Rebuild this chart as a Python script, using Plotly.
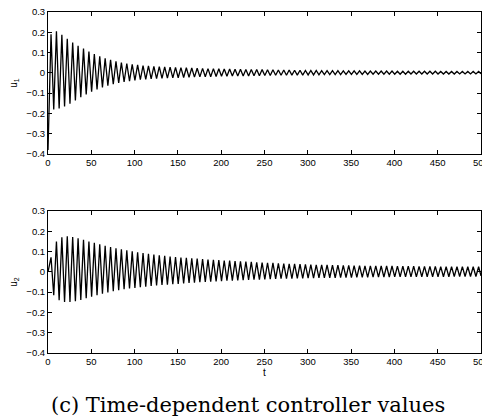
import plotly.graph_objects as go

# ---- data ----
t_first_peak = 3.5      # time of first positive extremum
half_period = 3.125     # half oscillation period (t units)
t_end = 500

u1_start = -0.38
u1_peaks = [0.190, 0.205, 0.188, 0.168, 0.150, 0.133, 0.120, 0.105, 0.093, 0.082,
            0.072, 0.064, 0.057, 0.051, 0.046, 0.042, 0.039, 0.036, 0.034, 0.032,
            0.031, 0.029, 0.028, 0.027, 0.026, 0.025, 0.024, 0.023, 0.022, 0.021,
            0.021, 0.020, 0.019, 0.019, 0.018, 0.018, 0.017, 0.017, 0.016, 0.016,
            0.015, 0.015, 0.014, 0.014, 0.014, 0.013, 0.013, 0.012, 0.012, 0.012,
            0.011, 0.011, 0.011, 0.011, 0.010, 0.010, 0.010, 0.010, 0.009, 0.009,
            0.009, 0.009, 0.009, 0.009, 0.008, 0.008, 0.008, 0.008, 0.008, 0.008,
            0.008, 0.008, 0.007, 0.007, 0.007, 0.007, 0.007, 0.007, 0.007, 0.007]
u1_troughs = [-0.180, -0.176, -0.166, -0.152, -0.136, -0.120, -0.106, -0.093, -0.082, -0.072,
              -0.063, -0.056, -0.050, -0.045, -0.041, -0.037, -0.034, -0.032, -0.030, -0.028,
              -0.027, -0.026, -0.025, -0.024, -0.023, -0.022, -0.021, -0.020, -0.019, -0.019,
              -0.018, -0.017, -0.017, -0.016, -0.016, -0.015, -0.015, -0.014, -0.014, -0.013,
              -0.013, -0.012, -0.012, -0.012, -0.011, -0.011, -0.011, -0.010, -0.010, -0.010,
              -0.009, -0.009, -0.009, -0.009, -0.008, -0.008, -0.008, -0.008, -0.008, -0.007,
              -0.007, -0.007, -0.007, -0.007, -0.007, -0.007, -0.006, -0.006, -0.006, -0.006,
              -0.006, -0.006, -0.006, -0.006, -0.006, -0.005, -0.005, -0.005, -0.005]
u1_final = -0.004

u2_start = 0.0
u2_peaks = [0.072, 0.150, 0.170, 0.175, 0.172, 0.165, 0.158, 0.150, 0.143, 0.136,
            0.129, 0.122, 0.116, 0.111, 0.106, 0.101, 0.097, 0.093, 0.089, 0.085,
            0.082, 0.079, 0.076, 0.073, 0.071, 0.069, 0.067, 0.065, 0.063, 0.061,
            0.059, 0.058, 0.056, 0.055, 0.053, 0.052, 0.050, 0.049, 0.047, 0.046,
            0.045, 0.044, 0.042, 0.041, 0.040, 0.039, 0.038, 0.037, 0.036, 0.035,
            0.035, 0.034, 0.033, 0.033, 0.032, 0.032, 0.031, 0.031, 0.030, 0.030,
            0.030, 0.029, 0.029, 0.029, 0.028, 0.028, 0.028, 0.028, 0.027, 0.027,
            0.027, 0.027, 0.026, 0.026, 0.026, 0.026, 0.026, 0.025, 0.025, 0.025]
u2_troughs = [-0.115, -0.140, -0.148, -0.148, -0.145, -0.138, -0.130, -0.122, -0.115, -0.108,
              -0.101, -0.095, -0.090, -0.086, -0.082, -0.079, -0.076, -0.073, -0.070, -0.067,
              -0.065, -0.063, -0.061, -0.059, -0.057, -0.055, -0.053, -0.051, -0.050, -0.048,
              -0.047, -0.046, -0.044, -0.043, -0.042, -0.041, -0.040, -0.039, -0.038, -0.037,
              -0.036, -0.035, -0.034, -0.034, -0.033, -0.032, -0.032, -0.031, -0.031, -0.030,
              -0.030, -0.029, -0.029, -0.028, -0.028, -0.028, -0.027, -0.027, -0.027, -0.026,
              -0.026, -0.026, -0.026, -0.025, -0.025, -0.025, -0.025, -0.025, -0.024, -0.024,
              -0.024, -0.024, -0.024, -0.024, -0.023, -0.023, -0.023, -0.023, -0.023]
u2_final = -0.020

x_ticks = [0, 50, 100, 150, 200, 250, 300, 350, 400, 450, 500]
y_ticks = [-0.4, -0.3, -0.2, -0.1, 0, 0.1, 0.2, 0.3]
y_ticktext = ["\u22120.4", "\u22120.3", "\u22120.2", "\u22120.1", "0", "0.1", "0.2", "0.3"]


def build(start, peaks, troughs, final):
    ts, vs = [0.0], [start]
    for k, p in enumerate(peaks):
        ts.append(t_first_peak + 2 * k * half_period)
        vs.append(p)
        if k < len(troughs):
            ts.append(t_first_peak + (2 * k + 1) * half_period)
            vs.append(troughs[k])
    ts.append(t_end)
    vs.append(final)
    return ts, vs


t1, y1 = build(u1_start, u1_peaks, u1_troughs, u1_final)
t2, y2 = build(u2_start, u2_peaks, u2_troughs, u2_final)

fig = go.Figure()
line = dict(color="black", width=1.3)
fig.add_trace(go.Scatter(x=t1, y=y1, mode="lines", line=line, xaxis="x", yaxis="y", showlegend=False))
fig.add_trace(go.Scatter(x=t2, y=y2, mode="lines", line=line, xaxis="x2", yaxis="y2", showlegend=False))

tickfont = dict(family="Liberation Sans, Arial, sans-serif", size=9.5, color="black")
ax_common = dict(showline=True, linecolor="black", linewidth=1, mirror="ticks",
                 ticks="inside", ticklen=4, tickcolor="black", tickwidth=1,
                 showgrid=False, zeroline=False, tickfont=tickfont,
                 ticklabeloverflow="allow", automargin=False)

fig.update_layout(
    width=482, height=419,
    margin=dict(l=48, r=1, t=12, b=66, autoexpand=False),
    paper_bgcolor="white", plot_bgcolor="white",
    xaxis=dict(domain=[0, 1], range=[0, 500], tickvals=x_ticks, anchor="y", **ax_common),
    yaxis=dict(domain=[0.5836, 1], range=[-0.4, 0.3], tickvals=y_ticks, ticktext=y_ticktext,
               anchor="x", title=dict(text="u<sub>1</sub>", standoff=6,
                                      font=dict(family="Liberation Sans, Arial", size=10, color="black")),
               **ax_common),
    xaxis2=dict(domain=[0, 1], range=[0, 500], tickvals=x_ticks, anchor="y2",
                title=dict(text="t", standoff=2,
                           font=dict(family="Liberation Sans, Arial", size=10, color="black")),
                **ax_common),
    yaxis2=dict(domain=[0, 0.4164], range=[-0.4, 0.3], tickvals=y_ticks, ticktext=y_ticktext,
                anchor="x2", title=dict(text="u<sub>2</sub>", standoff=6,
                                        font=dict(family="Liberation Sans, Arial", size=10, color="black")),
                **ax_common),
    annotations=[dict(text="(c) Time-dependent controller values", xref="paper", yref="paper",
                      x=0.462, y=-0.1525, xanchor="center", yanchor="middle", showarrow=False,
                      font=dict(family="DejaVu Serif, serif", size=21, color="black"))],
)

fig.write_html("out.html")
